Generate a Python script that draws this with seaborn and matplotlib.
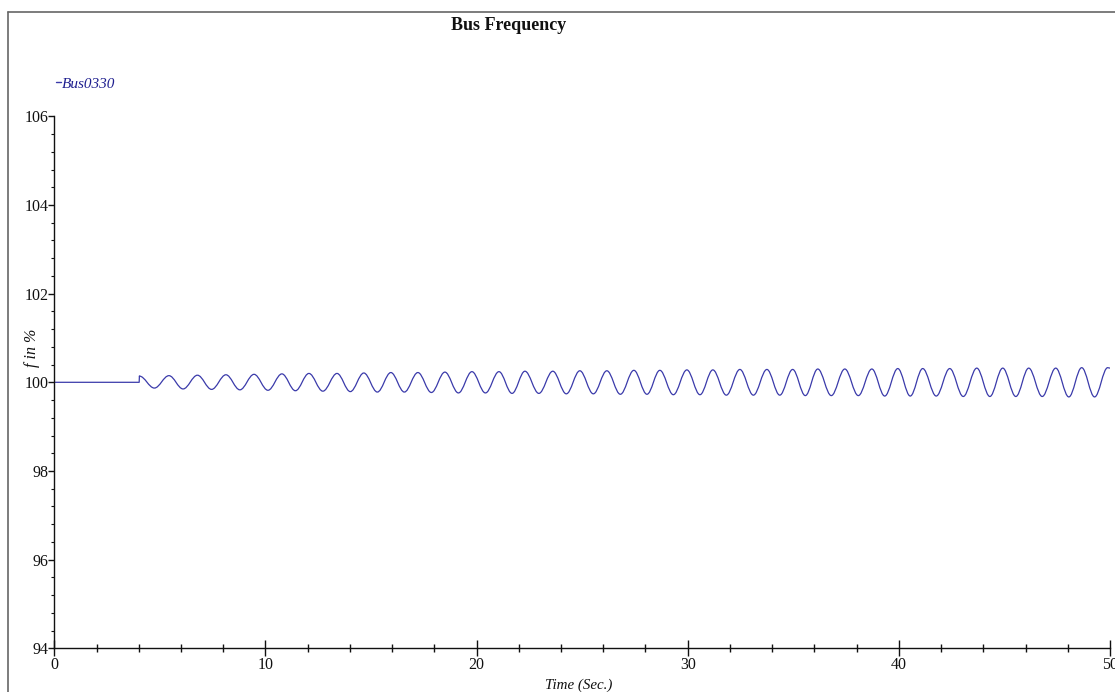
import matplotlib
matplotlib.use("Agg")
import matplotlib.pyplot as plt
from matplotlib.path import Path
from matplotlib.patches import PathPatch
from matplotlib.lines import Line2D
from matplotlib.ticker import MultipleLocator
import seaborn as sns
import pandas as pd

# ---- data -------------------------------------------------------------
# steady state before the disturbance, and the step at t = 4 s
pre_time = [0.0, 4.02, 4.03]
pre_freq = [100.0, 100.0, 100.14]

# local maxima of the oscillation (time in s, frequency in %)
peak_time = [5.43, 6.78, 8.13, 9.46, 10.78, 12.06, 13.39, 14.66, 15.94, 17.22,
             18.50, 19.78, 21.06, 22.29, 23.61, 24.89, 26.17, 27.45, 28.68, 29.96,
             31.19, 32.47, 33.75, 34.97, 36.16, 37.44, 38.72, 39.95, 41.13, 42.41,
             43.69, 44.92, 46.15, 47.43, 48.66, 49.89]
peak_freq = [100.15, 100.16, 100.17, 100.18, 100.19, 100.20, 100.20, 100.21, 100.22, 100.22,
             100.23, 100.24, 100.24, 100.25, 100.25, 100.26, 100.26, 100.27, 100.27, 100.28,
             100.28, 100.29, 100.29, 100.29, 100.30, 100.30, 100.30, 100.31, 100.31, 100.31,
             100.32, 100.32, 100.32, 100.32, 100.33, 100.33]

# local minima of the oscillation
trough_time = [4.74, 6.10, 7.45, 8.79, 10.12, 11.42, 12.72, 14.02, 15.30, 16.58,
               17.86, 19.14, 20.42, 21.68, 22.95, 24.25, 25.53, 26.81, 28.07, 29.32,
               30.58, 31.83, 33.11, 34.36, 35.57, 36.80, 38.08, 39.33, 40.54, 41.77,
               43.05, 44.31, 45.54, 46.79, 48.05, 49.27]
trough_freq = [99.87, 99.85, 99.84, 99.83, 99.82, 99.81, 99.80, 99.79, 99.78, 99.78,
               99.77, 99.76, 99.76, 99.75, 99.75, 99.74, 99.74, 99.73, 99.73, 99.72,
               99.72, 99.71, 99.71, 99.71, 99.70, 99.70, 99.70, 99.69, 99.69, 99.69,
               99.68, 99.68, 99.68, 99.68, 99.67, 99.67]

end_time = [50.0]
end_freq = [100.32]

x_ticks = [0, 10, 20, 30, 40, 50]
y_ticks = [94, 96, 98, 100, 102, 104, 106]
series_name = "Bus0330"

# ---- style ------------------------------------------------------------
sns.set_theme(style="white")
plt.rcParams["font.family"] = ["Liberation Serif", "DejaVu Serif"]

LINE = "#3a3aaa"
TEXT_BLUE = "#1f1f8f"
INK = "#111111"

W, H = 1115, 692
fig = plt.figure(figsize=(W / 100, H / 100), dpi=100)
fig.patch.set_facecolor("white")

left, right = 54.3 / W, 1110 / W
bottom, top = 1 - 648.3 / H, 1 - 116.3 / H
ax = fig.add_axes([left, bottom, right - left, top - bottom])
ax.set_facecolor("white")

# flat pre-disturbance part
pre_df = pd.DataFrame({"t": pre_time, "f": pre_freq})
sns.lineplot(data=pre_df, x="t", y="f", ax=ax, color=LINE, lw=0.9,
             sort=False, estimator=None)

# oscillation: smooth cubic segments through successive extrema
knots = sorted(list(zip(trough_time, trough_freq)) + list(zip(peak_time, peak_freq)))
knots = [(pre_time[-1], pre_freq[-1])] + knots + list(zip(end_time, end_freq))
c = 0.3634
verts = [knots[0]]
codes = [Path.MOVETO]
for (t0, v0), (t1, v1) in zip(knots[:-1], knots[1:]):
    dt = t1 - t0
    verts += [(t0 + c * dt, v0), (t1 - c * dt, v1), (t1, v1)]
    codes += [Path.CURVE4] * 3
ax.add_patch(PathPatch(Path(verts, codes), fill=False, edgecolor=LINE, lw=0.9,
                       capstyle="round", joinstyle="round"))

# ---- axes -------------------------------------------------------------
ax.set_xlim(0, 50)
ax.set_ylim(94, 106)
ax.set_xticks(x_ticks)
ax.set_yticks(y_ticks)
ax.xaxis.set_minor_locator(MultipleLocator(2))
ax.yaxis.set_minor_locator(MultipleLocator(0.4))
ax.set_xticklabels([str(v) for v in x_ticks])
ax.set_yticklabels([str(v) for v in y_ticks])
ax.set_xlabel("")
ax.set_ylabel("")
ax.grid(False)

for s in ("top", "right"):
    ax.spines[s].set_visible(False)
for s in ("left", "bottom"):
    ax.spines[s].set_color(INK)
    ax.spines[s].set_linewidth(1.0)

ax.tick_params(axis="x", which="major", direction="inout", length=12, width=1.0,
               color=INK, labelsize=11.5, pad=0, labelcolor=INK)
ax.tick_params(axis="x", which="minor", direction="inout", length=6, width=1.0,
               color=INK)
ax.tick_params(axis="y", which="major", direction="out", length=4, width=1.0,
               color=INK, labelsize=11.5, pad=0, labelcolor=INK)
ax.tick_params(axis="y", which="minor", direction="out", length=2, width=0.8,
               color=INK)
ax.tick_params(which="both", bottom=True, left=True)

# ---- texts ------------------------------------------------------------
fig.text(509 / W, 1 - 25 / H, "Bus Frequency", ha="center", va="center",
         fontsize=13, fontweight="bold", color=INK)
fig.text(579 / W, 1 - 685 / H, "Time (Sec.)", ha="center", va="center",
         fontsize=10.8, style="italic", color=INK)
fig.text(32 / W, 1 - 348 / H, "f in %", ha="center", va="center",
         fontsize=11.5, style="italic", rotation=90, color=INK)

# legend entry
fig.add_artist(Line2D([56 / W, 61 / W], [1 - 82 / H, 1 - 82 / H],
                      color=LINE, lw=1.0, transform=fig.transFigure))
fig.text(62 / W, 1 - 84 / H, series_name, ha="left", va="center",
         fontsize=11, style="italic", color=TEXT_BLUE)

# frame around the plot region
frame_kw = dict(color="#666666", lw=1.2, transform=fig.transFigure)
fig.add_artist(Line2D([8 / W, 1.0], [1 - 11.5 / H, 1 - 11.5 / H], **frame_kw))
fig.add_artist(Line2D([8 / W, 8 / W], [0.0, 1 - 11.5 / H], **frame_kw))

fig.savefig("out.png", dpi=100, facecolor="white")
